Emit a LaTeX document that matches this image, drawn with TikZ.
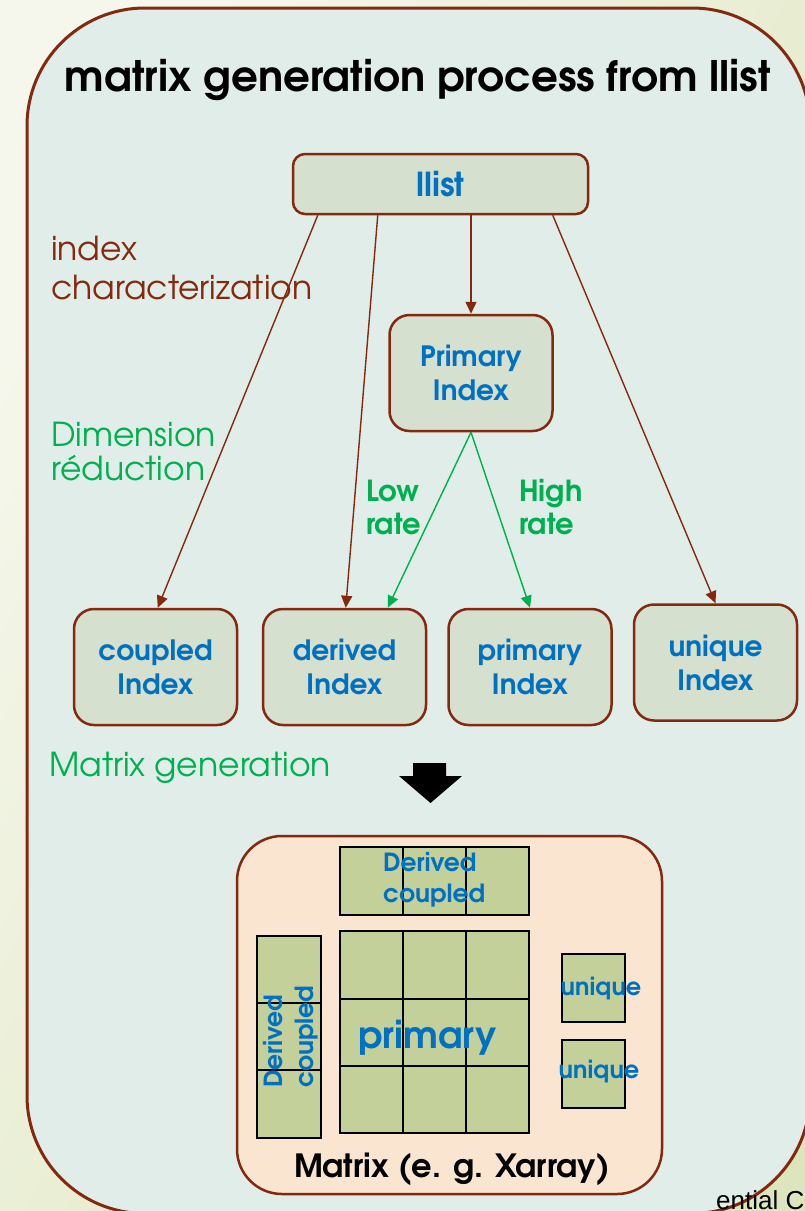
\documentclass[tikz,border=0pt]{standalone}
\usepackage{fontspec}
\setmainfont{texgyreadventor}[Extension=.otf, UprightFont=*-regular, BoldFont=*-bold, ItalicFont=*-italic, BoldItalicFont=*-bolditalic]
\newfontfamily\arialfont{Liberation Sans}
\usetikzlibrary{arrows.meta,calc}

\definecolor{brn}{HTML}{84290F}
\definecolor{blu}{HTML}{0070C0}
\definecolor{grn}{HTML}{00B050}
\definecolor{panel}{HTML}{E0EDE8}
\definecolor{boxfill}{HTML}{D6E0CF}
\definecolor{peach}{HTML}{FAE5D0}
\definecolor{cell}{HTML}{C3D09A}
\definecolor{bgleft}{HTML}{F5F7EC}
\definecolor{bgright}{HTML}{DDE5BC}

\tikzset{
  idx/.style={draw=brn, line width=2.5pt, fill=boxfill, rounded corners=20pt,
    minimum width=163pt, minimum height=116pt, inner sep=0pt, align=center,
    text=blu, font=\bfseries\fontsize{28}{34}\selectfont},
  link/.style={draw=brn, line width=1.4pt, -{Triangle[length=12pt,width=11pt]}},
  glink/.style={draw=grn, line width=1.4pt, -{Triangle[length=12pt,width=11pt]}},
  note/.style={inner sep=0pt, align=left},
  cellbox/.style={draw=black, line width=2pt, fill=cell},
  mtext/.style={inner sep=0pt, text=blu, font=\bfseries\fontsize{25}{31}\selectfont, align=left},
}

\begin{document}
\begin{tikzpicture}[x=1pt, y=-1pt]
\useasboundingbox (0,0) rectangle (805,1211);
\clip (0,0) rectangle (805,1211);

% slide background
\shade[shading=axis, left color=bgleft, right color=bgright, shading angle=60]
  (0,0) rectangle (805,1211);

% main panel
\draw[brn, line width=3pt, fill=panel, rounded corners=118pt]
  (27,8) rectangle (810,1213.5);

% footer text at the lower right corner
\node[anchor=base west, inner sep=0pt, font=\arialfont\fontsize{26}{30}\selectfont]
  (footer) at (716,1209) {ential C};

% title
\node[anchor=base, inner sep=0pt, font=\bfseries\fontsize{42}{50}\selectfont]
  (title) at (418,91) {matrix generation process from llist};

% nodes
\node[draw=brn, line width=2.5pt, fill=boxfill, rounded corners=12pt,
  minimum width=295pt, minimum height=60pt, inner sep=0pt, text=blu,
  font=\bfseries\fontsize{33}{38}\selectfont] (llist) at (440.5,184) {llist};
\node[idx] (pidx) at (471,373) {Primary\\Index};
\node[idx] (coupled) at (155.5,667) {coupled\\Index};
\node[idx] (derived) at (344.5,667) {derived\\Index};
\node[idx] (primary) at (530,667) {primary\\Index};
\node[idx] (unique) at (715.5,662.5) {unique\\Index};

% connectors
\draw[link] ($(llist.south west)+(26,0)$) -- ($(coupled.north west)+(85,0)$);
\draw[link] ($(llist.south west)+(86,0)$) -- ($(derived.north west)+(84,0)$);
\draw[link] (pidx.north |- llist.south) -- (pidx.north);
\draw[link] ($(llist.south west)+(261,0)$) -- (unique.north);
\draw[glink] (pidx.south) -- ($(derived.north west)+(126,0)$);
\draw[glink] (pidx.south) -- (primary.north);

% side labels
\node[note, text=brn, font=\fontsize{33}{39}\selectfont, anchor=north west]
  (lab1) at (51,236) {index\\characterization};
\node[note, text=grn, font=\fontsize{33}{34}\selectfont, anchor=north west]
  (lab2) at (51,422) {Dimension\\réduction};
\node[inner sep=0pt, text=grn, font=\fontsize{33}{38}\selectfont, anchor=base west]
  (lab3) at (49,776) {Matrix generation};
\node[note, text=grn, font=\bfseries\fontsize{29}{33}\selectfont, anchor=west]
  (low) at (366,507.5) {Low\\rate};
\node[note, text=grn, font=\bfseries\fontsize{29}{33}\selectfont, anchor=west]
  (high) at (519,507.5) {High\\rate};

% block arrow
\fill[black] (413,763) -- (446,763) -- (446,776) -- (462,776) -- (430.5,803)
  -- (399,776) -- (413,776) -- cycle;

% matrix sketch
\draw[brn, line width=2.5pt, fill=peach, rounded corners=45pt]
  (237,836) rectangle (662,1194);
% top strip
\draw[cellbox] (340,847) rectangle (529,915);
\draw[black, line width=2pt] (403,847) -- (403,915) (466,847) -- (466,915);
% left strip
\draw[cellbox] (257,936) rectangle (321,1138);
\draw[black, line width=2pt] (257,1003) -- (321,1003) (257,1070) -- (321,1070);
% primary grid
\draw[cellbox] (340,931) rectangle (529,1133);
\draw[black, line width=2pt] (403,931) -- (403,1133) (466,931) -- (466,1133)
  (340,999) -- (529,999) (340,1066) -- (529,1066);
% unique blocks
\draw[cellbox] (562,954) rectangle (625,1022);
\draw[cellbox] (562,1040) rectangle (625,1108);

\node[mtext, anchor=west] (dctop) at (383,880) {Derived\\coupled};
\node[mtext, anchor=west, rotate=90] (dcleft) at (291,1088) {Derived\\coupled};
\node[inner sep=0pt, text=blu, font=\bfseries\fontsize{37}{44}\selectfont, anchor=base]
  (prim) at (427.5,1048) {primary};
\node[inner sep=0pt, text=blu, font=\bfseries\fontsize{24}{30}\selectfont, anchor=base]
  (uq1) at (601,995) {unique};
\node[inner sep=0pt, text=blu, font=\bfseries\fontsize{24}{30}\selectfont, anchor=base]
  (uq2) at (599,1078) {unique};
\node[inner sep=0pt, font=\bfseries\fontsize{32}{38}\selectfont, anchor=base]
  (mcap) at (452,1177) {Matrix (e. g. Xarray)};
\end{tikzpicture}
\end{document}
